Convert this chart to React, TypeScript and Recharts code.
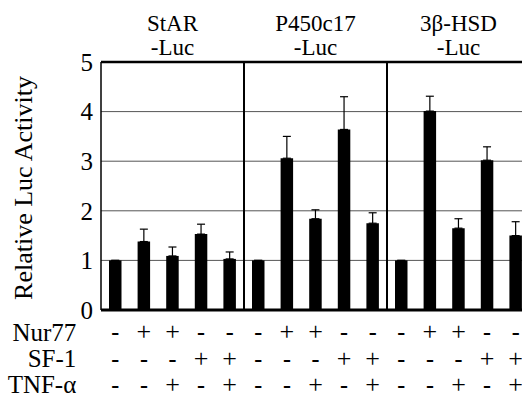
import { BarChart, Bar, XAxis, YAxis, CartesianGrid, ReferenceLine, ErrorBar } from 'recharts'

const FONT = 'Liberation Serif, Times New Roman, serif'

// one entry per bar, 3 reporters x 5 conditions
const conditions = ['a1', 'a2', 'a3', 'a4', 'a5', 'b1', 'b2', 'b3', 'b4', 'b5', 'c1', 'c2', 'c3', 'c4', 'c5']
const activity = [1.0, 1.38, 1.09, 1.53, 1.03, 1.0, 3.06, 1.84, 3.64, 1.75, 1.0, 4.01, 1.65, 3.02, 1.5]
const errUp = [0, 0.25, 0.18, 0.2, 0.14, 0, 0.44, 0.18, 0.66, 0.21, 0, 0.3, 0.19, 0.27, 0.28]

const groupTitles = ['StAR', 'P450c17', '3β-HSD']
const groupSub = ['-Luc', '-Luc', '-Luc']

const rowLabels = ['Nur77', 'SF-1', 'TNF-α']
const nur77 = ['-', '+', '+', '-', '-', '-', '+', '+', '-', '-', '-', '+', '+', '-', '-']
const sf1 = ['-', '-', '-', '+', '+', '-', '-', '-', '+', '+', '-', '-', '-', '+', '+']
const tnf = ['-', '-', '+', '-', '+', '-', '-', '+', '-', '+', '-', '-', '+', '-', '+']
const rows = [nur77, sf1, tnf]

const yTicks = [0, 1, 2, 3, 4, 5]

const data = conditions.map((id, i) => ({ id, value: activity[i], err: [0, errUp[i]] }))

function GroupTitleTick(props: any) {
  const { x, y, index } = props
  if (index % 5 !== 2) return null
  const g = Math.floor(index / 5)
  return (
    <g fontFamily={FONT} fontSize={23} fill="#000">
      <text x={x} y={y - 23} textAnchor="middle">{groupTitles[g]}</text>
      <text x={x} y={y + 1} textAnchor="middle">{groupSub[g]}</text>
    </g>
  )
}

function SignTick(props: any) {
  const { x, y, index } = props
  return (
    <g fontFamily={FONT} fill="#000">
      {rows.map((r, ri) => (
        <text
          key={ri}
          x={x}
          y={y + 22 + ri * 26.5}
          textAnchor="middle"
          fontSize={r[index] === '+' ? 26 : 24}
          fontWeight={r[index] === '+' ? 'normal' : 'bold'}
        >
          {r[index]}
        </text>
      ))}
      {index === 0 && rowLabels.map((l, ri) => (
        <text key={l} x={x - 39} y={y + 23 + ri * 26} textAnchor="end" fontSize={25}>{l}</text>
      ))}
    </g>
  )
}

function YLabel(props: any) {
  const vb = props.viewBox
  const cy = vb.y + vb.height / 2 + 2
  return (
    <text x={32} y={cy} transform={`rotate(-90 32 ${cy})`} textAnchor="middle" fontFamily={FONT} fontSize={26} fill="#000">
      Relative Luc Activity
    </text>
  )
}

export default function App() {
  return (
    <div style={{ position: 'absolute', left: 0, top: 0, width: 522, height: 398, overflow: 'hidden', background: '#fff' }}>
      <BarChart width={540} height={398} data={data} margin={{ top: 0, right: 10, bottom: 0, left: 0 }} barCategoryGap={0}>
        <CartesianGrid vertical={false} stroke="#555" strokeWidth={1} />
        <XAxis
          xAxisId="top"
          orientation="top"
          dataKey="id"
          height={62}
          interval={0}
          tickLine={false}
          axisLine={{ stroke: '#000', strokeWidth: 2.5 }}
          tick={<GroupTitleTick />}
        />
        <XAxis
          dataKey="id"
          height={88}
          interval={0}
          tickLine={false}
          axisLine={{ stroke: '#000', strokeWidth: 3 }}
          tick={<SignTick />}
        />
        <YAxis
          width={101}
          domain={[0, 5]}
          ticks={yTicks}
          interval={0}
          tickLine={false}
          axisLine={{ stroke: '#000', strokeWidth: 1.5 }}
          tick={{ fontFamily: FONT, fontSize: 25, fill: '#000' }}
          tickMargin={2}
          label={<YLabel />}
        />
        <ReferenceLine x={conditions[5]} position="start" stroke="#000" strokeWidth={2} />
        <ReferenceLine x={conditions[10]} position="start" stroke="#000" strokeWidth={2} />
        <Bar dataKey="value" fill="#000" barSize={12.5} isAnimationActive={false}>
          <ErrorBar dataKey="err" width={4} stroke="#000" strokeWidth={1.2} />
        </Bar>
      </BarChart>
    </div>
  )
}
